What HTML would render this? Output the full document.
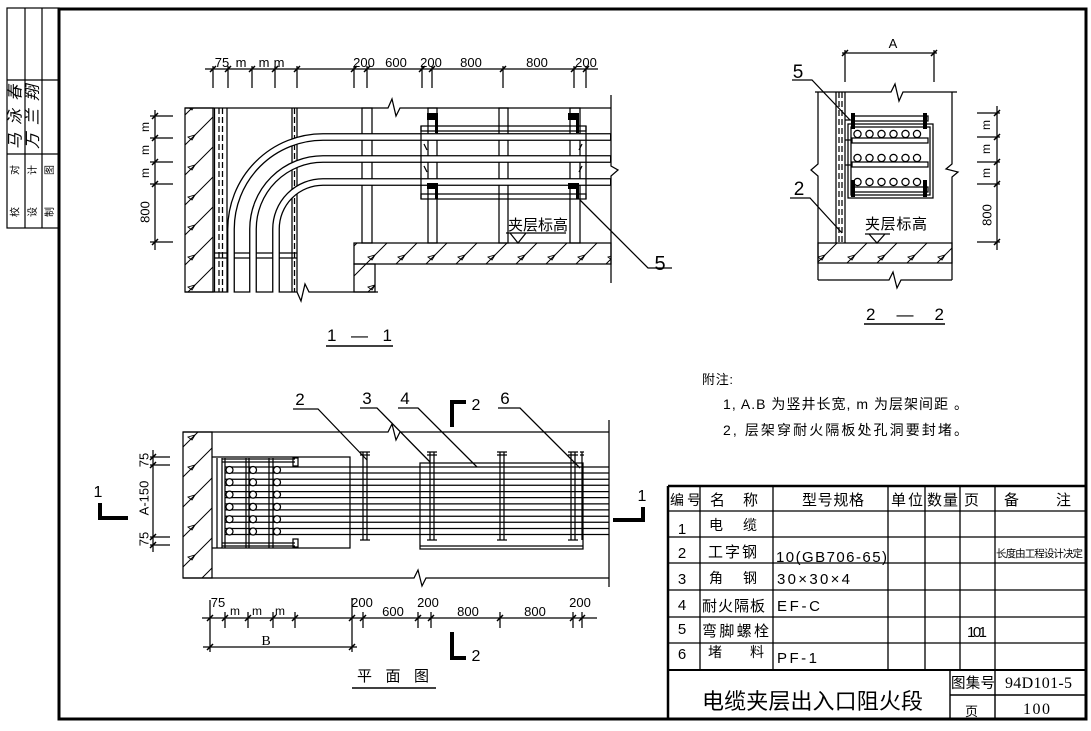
<!DOCTYPE html>
<html><head><meta charset="utf-8">
<style>
html,body{margin:0;padding:0;background:#fff;}
svg{display:block;}
text{font-family:"Liberation Sans","Noto Sans CJK SC",sans-serif;fill:#000;stroke:none;}
.sf{font-family:"Liberation Serif","Noto Serif CJK SC",serif;}
</style></head><body>
<svg width="1091" height="731" viewBox="0 0 1091 731" xmlns="http://www.w3.org/2000/svg">
<defs>
<pattern id="hat" width="30" height="30" patternUnits="userSpaceOnUse">
<path d="M0,30 L30,0 M-2,2 L2,-2 M28,32 L32,28" stroke="#000" stroke-width="1"/>
<path d="M8,17 l7,-2 l-3,5 z" fill="none" stroke="#000" stroke-width="0.9"/>
</pattern>
</defs>
<rect width="1091" height="731" fill="#fff"/>

<!-- frame -->
<rect x="59" y="9" width="1027" height="710" fill="none" stroke="#000" stroke-width="3"/>

<!-- left stamp -->
<g stroke="#000" fill="none" stroke-width="1.2">
<rect x="7" y="8" width="52" height="220"/>
<path d="M25,8V228 M42,8V228 M7,80H59 M7,154H59"/>
</g>
<g font-size="10">
<text transform="translate(16,191) rotate(-90)" text-anchor="middle" dominant-baseline="central" textLength="52">校 对</text>
<text transform="translate(33.5,191) rotate(-90)" text-anchor="middle" dominant-baseline="central" textLength="52">设 计</text>
<text transform="translate(50.5,191) rotate(-90)" text-anchor="middle" dominant-baseline="central" textLength="52">制 图</text>
</g>
<g font-size="16" font-style="italic">
<text transform="translate(16,117) rotate(-90)" text-anchor="middle" dominant-baseline="central" textLength="64">马泳春</text>
<text transform="translate(33.5,117) rotate(-90)" text-anchor="middle" dominant-baseline="central" textLength="64">万兰翔</text>
</g>

<!-- ================= SECTION 1-1 ================= -->
<g stroke="#000" fill="none" stroke-width="1.25">
<line x1="205" y1="69" x2="598" y2="69"/>
<path d="M213,66V88 M228,66V88 M252,66V88 M275,66V88 M297,66V88 M354,66V88 M367,66V88 M422,66V88 M432,66V88 M503,66V88 M574,66V88 M586,66V88"/>
<path stroke-width="1.5" d="M210,72l6,-6M225,72l6,-6M249,72l6,-6M272,72l6,-6M294,72l6,-6M351,72l6,-6M364,72l6,-6M419,72l6,-6M429,72l6,-6M500,72l6,-6M571,72l6,-6M583,72l6,-6"/>
<line x1="155" y1="110" x2="155" y2="250"/>
<path d="M150,116H173 M150,138H173 M150,162H173 M150,184H173 M150,242H173"/>
<path stroke-width="1.5" d="M152,119l6,-6M152,141l6,-6M152,165l6,-6M152,187l6,-6M152,245l6,-6"/>

<path d="M185,108 H388 L392,99 L396,116 L400,108 H611"/>
<path d="M185,292 H297 L301,301 L305,284 L309,292 H378"/>
<path d="M611,95 V166 L618,170 L611,176 V283"/>
<rect x="185" y="108" width="28" height="184" fill="url(#hat)"/>
<path d="M214.5,108V292 M227,108V292"/>
<path d="M219,108V292 M222.5,108V292" stroke-dasharray="6,3"/>
<path d="M292,108V292 M297,108V292"/>
<path d="M294.5,108V292" stroke-dasharray="6,3"/>
<path d="M214,253H297 M214,258H297"/>
<rect x="362" y="108" width="10" height="135"/>
<rect x="428" y="108" width="9" height="135"/>
<rect x="499" y="108" width="9" height="135"/>
<rect x="570" y="108" width="10" height="135"/>
<rect x="354" y="243" width="257" height="21" fill="url(#hat)"/>
<rect x="354" y="264" width="21" height="28" fill="url(#hat)"/>
</g>
<g fill="none">
<g stroke="#000" stroke-width="7.8">
<path d="M231,292 V229 A92,92 0 0 1 323,137 H611"/>
<path d="M253,292 V229 A70,70 0 0 1 323,159 H611"/>
<path d="M276,292 V229 A47,47 0 0 1 323,182 H611"/>
</g>
<g stroke="#fff" stroke-width="5.2">
<path d="M231,293 V229 A92,92 0 0 1 323,137 H610"/>
<path d="M253,293 V229 A70,70 0 0 1 323,159 H610"/>
<path d="M276,293 V229 A47,47 0 0 1 323,182 H610"/>
</g>
</g>
<g stroke="#000" fill="none" stroke-width="1.25">
<rect x="421" y="126" width="165" height="5"/>
<rect x="421" y="194" width="165" height="5"/>
<path d="M421,126V199 M586,126V199"/>
<path d="M424,144l3,6 M424,166l3,6 M582,144l-3,6 M582,166l-3,6"/>
<path d="M580,200 L648,268 H672"/>
<path d="M506,233 H566 M510,233 L518,243 L526,233"/>
<path d="M326,346 H393" stroke-width="1.6"/>
</g>
<g fill="#000">
<rect x="427" y="113" width="11" height="7"/><rect x="435" y="113" width="3" height="20"/>
<rect x="427" y="183" width="11" height="6"/><rect x="435" y="183" width="3" height="16"/>
<rect x="568" y="113" width="11" height="7"/><rect x="576" y="113" width="3" height="20"/>
<rect x="568" y="183" width="11" height="6"/><rect x="576" y="183" width="3" height="16"/>
</g>
<g font-size="13">
<text x="222" y="67" text-anchor="middle">75</text>
<text x="241" y="67" text-anchor="middle">m</text>
<text x="264" y="67" text-anchor="middle">m</text>
<text x="279" y="67" text-anchor="middle">m</text>
<text x="364" y="67" text-anchor="middle">200</text>
<text x="396" y="67" text-anchor="middle">600</text>
<text x="431" y="67" text-anchor="middle">200</text>
<text x="471" y="67" text-anchor="middle">800</text>
<text x="537" y="67" text-anchor="middle">800</text>
<text x="586" y="67" text-anchor="middle">200</text>
<text transform="translate(145,127) rotate(-90)" text-anchor="middle" dominant-baseline="central" font-size="12">m</text>
<text transform="translate(145,150) rotate(-90)" text-anchor="middle" dominant-baseline="central" font-size="12">m</text>
<text transform="translate(145,173) rotate(-90)" text-anchor="middle" dominant-baseline="central" font-size="12">m</text>
<text transform="translate(145,212) rotate(-90)" text-anchor="middle" dominant-baseline="central">800</text>
</g>
<text x="508" y="230" font-size="15" textLength="60">夹层标高</text>
<text x="660" y="270" font-size="20" text-anchor="middle">5</text>
<text x="327" y="341" font-size="17" textLength="65">1 — 1</text>

<!-- ================= SECTION 2-2 ================= -->
<g stroke="#000" fill="none" stroke-width="1.25">
<line x1="842" y1="53" x2="937" y2="53"/>
<path d="M845,50V82 M934,50V82"/>
<path stroke-width="1.5" d="M842,56l6,-6M931,56l6,-6"/>
<path d="M815,92 H891 L895,84 L899,101 L903,92 H957"/>
<path d="M818,92 V164 L811,170 L818,176 V280"/>
<path d="M952,92 V164 L946,169 L958,172 L952,177 V280"/>
<path d="M818,280 H889 L893,272 L897,288 L901,280 H952"/>
<path d="M836,92V243 M845,92V243"/>
<path d="M839,92V243 M842,92V243" stroke-dasharray="6,3"/>
<rect x="818" y="243" width="134" height="20" fill="url(#hat)"/>
<rect x="848" y="124" width="85" height="74"/>
<rect x="851" y="127" width="79" height="68"/>
<rect x="852" y="116" width="76" height="5" fill="#fff"/>
<rect x="852" y="138" width="76" height="5" fill="#fff"/>
<rect x="852" y="162" width="76" height="5" fill="#fff"/>
<rect x="852" y="187" width="76" height="5" fill="#fff"/>
<path d="M845,140H851 M845,165H851 M845,120H852"/>
<g fill="#fff">
<circle cx="857.5" cy="134" r="3.6"/><circle cx="869.5" cy="134" r="3.6"/><circle cx="881.5" cy="134" r="3.6"/><circle cx="893.5" cy="134" r="3.6"/><circle cx="905.5" cy="134" r="3.6"/><circle cx="917" cy="134" r="3.6"/>
<circle cx="857.5" cy="158" r="3.6"/><circle cx="869.5" cy="158" r="3.6"/><circle cx="881.5" cy="158" r="3.6"/><circle cx="893.5" cy="158" r="3.6"/><circle cx="905.5" cy="158" r="3.6"/><circle cx="917" cy="158" r="3.6"/>
<circle cx="857.5" cy="182" r="3.6"/><circle cx="869.5" cy="182" r="3.6"/><circle cx="881.5" cy="182" r="3.6"/><circle cx="893.5" cy="182" r="3.6"/><circle cx="905.5" cy="182" r="3.6"/><circle cx="917" cy="182" r="3.6"/>
</g>
<path d="M792,80 H812 L850,120"/>
<path d="M790,198 H810 L842,233"/>
<path d="M865,234 H890 M869,234 L877,243 L885,234"/>
<line x1="997" y1="106" x2="997" y2="250"/>
<path d="M977,113H1000 M977,137H1000 M977,162H1000 M977,184H1000 M977,242H1000"/>
<path stroke-width="1.5" d="M994,116l6,-6M994,140l6,-6M994,165l6,-6M994,187l6,-6M994,245l6,-6"/>
<path d="M864,324 H945" stroke-width="1.6"/>
</g>
<g fill="#000">
<rect x="851" y="113" width="4" height="16"/><rect x="923" y="113" width="4" height="16"/>
<rect x="851" y="180" width="4" height="17"/><rect x="923" y="180" width="4" height="17"/>
</g>
<text x="893" y="48" font-size="13" text-anchor="middle">A</text>
<text x="798" y="78" font-size="19" text-anchor="middle">5</text>
<text x="799" y="195" font-size="19" text-anchor="middle">2</text>
<text x="865" y="229" font-size="15" textLength="62">夹层标高</text>
<g font-size="12">
<text transform="translate(986,125) rotate(-90)" text-anchor="middle" dominant-baseline="central">m</text>
<text transform="translate(986,149) rotate(-90)" text-anchor="middle" dominant-baseline="central">m</text>
<text transform="translate(986,173) rotate(-90)" text-anchor="middle" dominant-baseline="central">m</text>
<text transform="translate(987,215) rotate(-90)" text-anchor="middle" dominant-baseline="central" font-size="13">800</text>
</g>
<text x="866" y="320" font-size="17" textLength="78">2 — 2</text>

<!-- ================= PLAN VIEW ================= -->
<g stroke="#000" fill="none" stroke-width="1.25">
<path d="M183,432 H388 L392,424 L396,440 L400,432 H609"/>
<path d="M609,420 V587"/>
<path d="M183,578 H414 L418,570 L422,586 L426,578 H609"/>
<rect x="183" y="432" width="29" height="146" fill="url(#hat)"/>
<path d="M212,457 H350 V548 H212"/>
<path d="M217,458 V548"/>
<path d="M222,459 H295 M222,462 H295 M222,543 H295 M222,546 H295"/>
<rect x="293" y="458" width="5" height="8"/>
<rect x="293" y="539" width="5" height="8"/>
<path d="M225,467H609 M225,473H609 M225,479.3H609 M225,485.3H609 M225,491.6H609 M225,497.6H609 M225,503.9H609 M225,509.9H609 M225,516.2H609 M225,522.2H609 M225,528.5H609 M225,534.5H609"/>
<path d="M222,458V548 M225,458V548 M246,458V548 M249,458V548 M269,458V548 M273,458V548"/>
<g fill="#fff">
<circle cx="229.5" cy="470" r="3.5"/><circle cx="229.5" cy="482.3" r="3.5"/><circle cx="229.5" cy="494.6" r="3.5"/><circle cx="229.5" cy="506.9" r="3.5"/><circle cx="229.5" cy="519.2" r="3.5"/><circle cx="229.5" cy="531.5" r="3.5"/>
<circle cx="253" cy="470" r="3.5"/><circle cx="253" cy="482.3" r="3.5"/><circle cx="253" cy="494.6" r="3.5"/><circle cx="253" cy="506.9" r="3.5"/><circle cx="253" cy="519.2" r="3.5"/><circle cx="253" cy="531.5" r="3.5"/>
<circle cx="277" cy="470" r="3.5"/><circle cx="277" cy="482.3" r="3.5"/><circle cx="277" cy="494.6" r="3.5"/><circle cx="277" cy="506.9" r="3.5"/><circle cx="277" cy="519.2" r="3.5"/><circle cx="277" cy="531.5" r="3.5"/>
</g>
<path d="M420,463 H583 V549 H420 Z M420,546 H583"/>
<path d="M360,452H370 M360,455H370 M363,452V540 M367,452V540 M360,540H370"/>
<path d="M427,452H437 M427,455H437 M430,452V540 M434,452V540 M427,540H437"/>
<path d="M497,452H507 M497,455H507 M500,452V540 M504,452V540 M497,540H507"/>
<path d="M568,452H578 M568,455H578 M571,452V540 M575,452V540 M568,540H578"/>
<path d="M580,452H584 M580,455H584 M582,452V540"/>
<path d="M293,409 H318 L367,460"/>
<path d="M360,408 H377 L430,462"/>
<path d="M398,408 H418 L477,467"/>
<path d="M498,408 H520 L580,468"/>
<line x1="153" y1="450" x2="153" y2="552"/>
<path d="M150,457H170 M150,465H170 M150,537H170 M150,545H170"/>
<path stroke-width="1.5" d="M150,460l6,-6M150,468l6,-6M150,540l6,-6M150,548l6,-6"/>
<line x1="202" y1="618" x2="597" y2="618"/>
<path d="M210,600V652 M352,598V652 M225,612V628 M248,612V628 M273,612V628 M295,612V628 M363,612V628 M418,612V628 M431,612V628 M500,612V628 M573,612V628 M582,612V628"/>
<path stroke-width="1.5" d="M207,621l6,-6M222,621l6,-6M245,621l6,-6M270,621l6,-6M292,621l6,-6M349,621l6,-6M360,621l6,-6M415,621l6,-6M428,621l6,-6M497,621l6,-6M570,621l6,-6M579,621l6,-6"/>
<line x1="203" y1="647" x2="357" y2="647"/>
<path stroke-width="1.5" d="M207,650l6,-6M349,650l6,-6"/>
<path d="M352,688 H436" stroke-width="1.6"/>
</g>
<g stroke="#000" fill="none" stroke-width="4">
<path d="M452,427 V402 H466"/>
<path d="M452,632 V658 H466"/>
<path d="M100,503 V518 H128"/>
<path d="M613,520 H643 V507"/>
</g>
<g font-size="17" text-anchor="middle">
<text x="300" y="405">2</text>
<text x="367" y="404">3</text>
<text x="405" y="404">4</text>
<text x="505" y="404">6</text>
<text x="476" y="410" font-size="16">2</text>
<text x="476" y="661" font-size="16">2</text>
<text x="98" y="497" font-size="16">1</text>
<text x="642" y="501" font-size="16">1</text>
</g>
<g font-size="13">
<text transform="translate(144,460) rotate(-90)" text-anchor="middle" dominant-baseline="central">75</text>
<text transform="translate(144,498) rotate(-90)" text-anchor="middle" dominant-baseline="central">A-150</text>
<text transform="translate(144,539) rotate(-90)" text-anchor="middle" dominant-baseline="central">75</text>
<text x="218" y="607" text-anchor="middle">75</text>
<text x="235" y="615" text-anchor="middle" font-size="12">m</text>
<text x="257" y="615" text-anchor="middle" font-size="12">m</text>
<text x="280" y="615" text-anchor="middle" font-size="12">m</text>
<text x="362" y="607" text-anchor="middle">200</text>
<text x="393" y="616" text-anchor="middle">600</text>
<text x="428" y="607" text-anchor="middle">200</text>
<text x="468" y="616" text-anchor="middle">800</text>
<text x="535" y="616" text-anchor="middle">800</text>
<text x="580" y="607" text-anchor="middle">200</text>
<text x="266" y="645" text-anchor="middle" class="sf" font-size="14">B</text>
</g>
<text x="357" y="681" font-size="15" textLength="72">平 面 图</text>

<!-- notes -->
<text x="702" y="384" font-size="13" textLength="31">附注:</text>
<text x="723" y="409" font-size="14" textLength="245">1, A.B 为竖井长宽, m 为层架间距 。</text>
<text x="723" y="435" font-size="14" textLength="245">2, 层架穿耐火隔板处孔洞要封堵。</text>

<!-- ================= TABLE ================= -->
<g stroke="#000" fill="none">
<path d="M668,486 H1086 M668,486 V719" stroke-width="2.5"/>
<path d="M668,511H1085 M668,537H1085 M668,563H1085 M668,590H1085 M668,617H1085 M668,643H1085" stroke-width="1.3"/>
<path d="M668,670H1086" stroke-width="2"/>
<path d="M700,486V670 M773,486V670 M888,486V670 M925,486V670 M960,486V670 M995,486V670" stroke-width="1.3"/>
<path d="M950,670V719 M995,670V719 M950,695H1086" stroke-width="1.4"/>
</g>
<g font-size="15">
<text x="670" y="505" font-size="14" textLength="31">编号</text>
<text x="710" y="505">名</text>
<text x="743" y="505">称</text>
<text x="802" y="505" textLength="62">型号规格</text>
<text x="891" y="505" textLength="32">单位</text>
<text x="927" y="505" textLength="31">数量</text>
<text x="964" y="505">页</text>
<text x="1004" y="505">备</text>
<text x="1056" y="505">注</text>

<text x="682" y="534" text-anchor="middle">1</text>
<text x="682" y="558" text-anchor="middle">2</text>
<text x="682" y="584" text-anchor="middle">3</text>
<text x="682" y="610" text-anchor="middle">4</text>
<text x="682" y="634" text-anchor="middle">5</text>
<text x="682" y="659" text-anchor="middle">6</text>

<text x="709" y="530" font-size="14">电</text>
<text x="743" y="530" font-size="14">缆</text>
<text x="708" y="557" font-size="15" textLength="49">工字钢</text>
<text x="709" y="583" font-size="14">角</text>
<text x="743" y="583" font-size="14">钢</text>
<text x="702" y="611" font-size="15" textLength="63">耐火隔板</text>
<text x="702" y="636" font-size="15" textLength="67">弯脚螺栓</text>
<text x="708" y="657" font-size="14">堵</text>
<text x="750" y="657" font-size="14">料</text>

<text x="776" y="562" textLength="111">10(GB706-65)</text>
<text x="777" y="584" textLength="73">30×30×4</text>
<text x="777" y="611" textLength="43">EF-C</text>
<text x="777" y="663" textLength="40">PF-1</text>
<text x="967" y="637" textLength="20">101</text>
<text x="996" y="557" font-size="10.5" textLength="87">长度由工程设计决定</text>

<text x="702" y="709" font-size="22" textLength="221">电缆夹层出入口阻火段</text>
<text x="951" y="688" font-size="14.5" textLength="44">图集号</text>
<text x="1005" y="688" class="sf" font-size="16" textLength="67">94D101-5</text>
<text x="965" y="716" font-size="13">页</text>
<text x="1023" y="714" class="sf" font-size="16" textLength="27">100</text>
</g>
</svg>
</body></html>
